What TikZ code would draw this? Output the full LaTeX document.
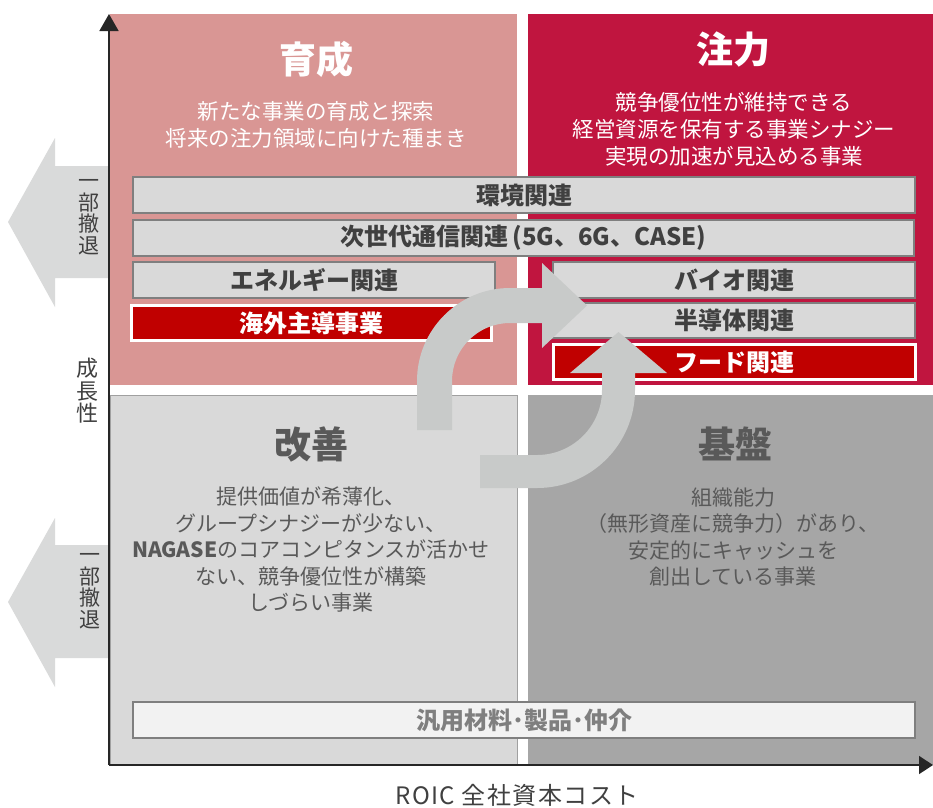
\documentclass[tikz,border=0pt]{standalone}
\usepackage{fontspec}
\setmainfont{Noto Sans CJK JP}
\usetikzlibrary{arrows.meta}
\definecolor{qTL}{HTML}{D99694}
\definecolor{qTR}{HTML}{C0153F}
\definecolor{qBL}{HTML}{D9D9D9}
\definecolor{qBLline}{HTML}{A0A0A0}
\definecolor{qBR}{HTML}{A6A6A6}
\definecolor{barfill}{HTML}{D9D9D9}
\definecolor{barline}{HTML}{7F7F7F}
\definecolor{bartext}{HTML}{404040}
\definecolor{redbar}{HTML}{C00000}
\definecolor{lightbar}{HTML}{F2F2F2}
\definecolor{lighttext}{HTML}{7F7F7F}
\definecolor{darktext}{HTML}{595959}
\definecolor{axiscol}{HTML}{262626}
\definecolor{axistext}{HTML}{404040}
\definecolor{curvegray}{HTML}{C8CAC9}
\definecolor{leftarrow}{HTML}{D9DADA}
\begin{document}
\begin{tikzpicture}[x=1pt,y=1pt,yscale=-1,
  quadtitle/.style={font=\fontsize{37}{40}\selectfont\bfseries, inner sep=0pt},
  desc/.style={font=\fontsize{21.5}{27}\selectfont, align=center, inner sep=0pt},
  descb/.style={font=\fontsize{21}{26.5}\selectfont, align=center, inner sep=0pt, text=darktext},
  barbox/.style={draw=barline, fill=barfill, line width=1.3pt, minimum height=36pt, inner sep=0pt, text=bartext, font=\fontsize{24}{26}\selectfont\bfseries},
  redbox/.style={barbox, draw=white, line width=3pt, fill=redbar, text=white, minimum height=35pt},
  vlabel/.style={font=\fontsize{21}{21.5}\selectfont, align=center, inner sep=0pt, text=axistext},
]
\useasboundingbox (0,0) rectangle (933,807);
\fill[white] (0,0) rectangle (933,807);

% quadrants
\fill[qTL] (110,14) rectangle (517,385);
\fill[qTR] (528,14) rectangle (933,385);
\filldraw[fill=qBL, draw=qBLline, line width=1.2pt] (110,395.6) rectangle (517.4,765);
\fill[qBR] (528,395) rectangle (933,765);

% left retreat arrows
\fill[leftarrow] (8,222) -- (55,138) -- (55,166) -- (109,166) -- (109,278) -- (55,278) -- (55,307) -- cycle;
\fill[leftarrow] (8,602) -- (55,518) -- (55,545) -- (109,545) -- (109,658) -- (55,658) -- (55,687) -- cycle;

% axes
\coordinate (origin) at (109,765);
\coordinate (ytop) at (109,14);
\coordinate (xend) at (933,765);
\draw[axiscol, line width=1.5pt, -{Triangle[length=17pt,width=19pt]}] (origin) -- (ytop);
\draw[axiscol, line width=1.5pt, -{Triangle[length=14pt,width=18pt]}] (origin) -- (xend);

% quadrant titles and descriptions
\node[quadtitle, text=white] (tIkusei) at (316,59) {育成};
\node[desc, text=white] (dIkusei) at (316,124.5) {新たな事業の育成と探索\\将来の注力領域に向けた種まき};
\node[quadtitle, text=white] (tChuryoku) at (733,50) {注力};
\node[desc, text=white] (dChuryoku) at (734,129) {競争優位性が維持できる\\経営資源を保有する事業シナジー\\実現の加速が見込める事業};
\node[quadtitle, text=darktext] (tKaizen) at (311,444) {改善};
\node[descb] (dKaizen) at (311,549.5) {提供価値が希薄化、\\グループシナジーが少ない、\\{\bfseries NAGASE}のコアコンピタンスが活かせ\\ない、競争優位性が構築\\しづらい事業};
\node[quadtitle, text=darktext] (tKiban) at (735,444) {基盤};
\node[descb] (dKiban) at (733,537) {組織能力\\（無形資産に競争力）があり、\\安定的にキャッシュを\\創出している事業};

% bars
\node[barbox, minimum width=782pt] (env) at (524,195) {環境関連};
\node[barbox, minimum width=781pt] (comm) at (523.5,238) {次世代通信関連\,(5G、6G、CASE)};
\node[barbox, minimum width=362pt] (energy) at (314,280) {エネルギー関連};
\node[redbox, minimum width=360pt] (overseas) at (311.5,323) {海外主導事業};
\node[barbox, minimum width=362pt] (bio) at (734,280) {バイオ関連};
\node[barbox, minimum width=362pt, minimum height=35pt] (semi) at (734,320.5) {半導体関連};
\node[redbox, minimum width=362pt] (food) at (734.5,362) {フード関連};
\node[barbox, fill=lightbar, text=lighttext, minimum width=782pt] (general) at (524,720) {汎用材料･製品･仲介};

% curved arrows
\fill[curvegray] (417,430) -- (417,381) arc[start angle=180, end angle=270, radius=93]
  -- (542,288) -- (542,263) -- (587,305.5) -- (542,348) -- (542,323) -- (510,323)
  arc[start angle=270, end angle=180, radius=58] -- (452,430) -- cycle;
\fill[curvegray] (480,455) -- (537,455) arc[start angle=90, end angle=0, radius=65]
  -- (602,373) -- (570,373) -- (618.5,332) -- (667,373) -- (635,373) -- (635,390)
  arc[start angle=0, end angle=90, radius=98] -- (480,488) -- cycle;

% axis labels
\node[vlabel] (retreatTop) at (88.5,217) {一\\部\\撤\\退};
\node[vlabel] (retreatBottom) at (90,591) {一\\部\\撤\\退};
\node[vlabel, font=\fontsize{22}{22.5}\selectfont] (growth) at (87,391) {成\\長\\性};
\node[font=\fontsize{24}{26}\selectfont\addfontfeature{LetterSpace=6}, text=axistext, inner sep=0pt] (xlabel) at (517,795) {ROIC 全社資本コスト};
\end{tikzpicture}
\end{document}
